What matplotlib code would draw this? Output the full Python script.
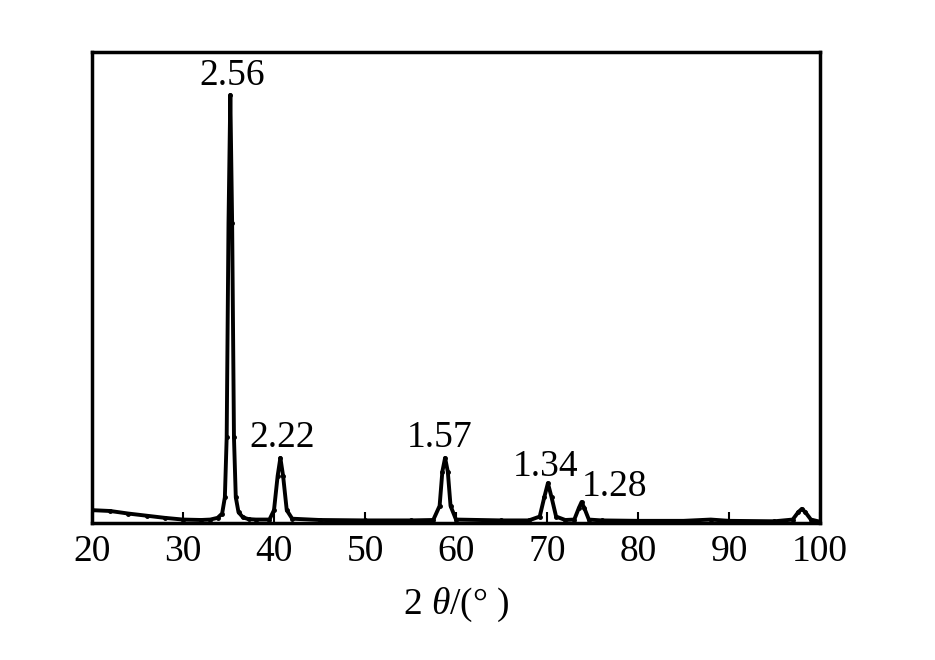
import matplotlib.pyplot as plt
import numpy as np

plt.rcParams['font.family'] = 'Liberation Serif'
plt.rcParams['mathtext.fontset'] = 'custom'
plt.rcParams['mathtext.rm'] = 'Liberation Serif'
plt.rcParams['mathtext.it'] = 'Liberation Serif:italic'

# XRD pattern, points
two_theta = [20, 22, 24, 26, 28, 30, 32, 33, 33.8, 34.3, 34.6, 34.8, 35.0, 35.2, 35.4, 35.6, 35.8, 36.1, 36.6, 37.2, 38,
             39.5, 40.0, 40.4, 40.7, 41.0, 41.4, 42, 45, 50, 55, 57.5, 58.2, 58.5, 58.8, 59.1, 59.4, 60,
             65, 68, 69.2, 69.7, 70.1, 70.5, 71, 72, 73.0, 73.5, 73.8, 74.1, 74.6, 76, 80, 85, 88, 90,
             95, 97, 97.6, 98.0, 98.4, 99, 100]
intensity = [30, 28, 22, 17, 12, 8, 7, 8, 12, 22, 60, 200, 700, 1000, 700, 200, 60, 25, 13, 9, 8,
             8, 30, 110, 152, 110, 30, 10, 7, 6, 6, 7, 40, 120, 152, 120, 40, 8,
             6, 6, 15, 60, 93, 60, 15, 7, 8, 35, 49, 35, 8, 6, 5, 5, 8, 5,
             4, 8, 25, 33, 25, 8, 3]

peak_labels = ['2.56', '2.22', '1.57', '1.34', '1.28']
label_x = [35.4, 40.9, 58.2, 69.8, 77.4]
label_y = [1046, 200, 200, 131, 84]

fig = plt.figure(figsize=(9.35, 6.6), dpi=100)
ax = fig.add_axes([0.0984, 0.2076, 0.7786, 0.7134])

ax.plot(two_theta, intensity, color='black', lw=2.8, marker='o', ms=2.5)

for t, x, y in zip(peak_labels, label_x, label_y):
    ax.text(x, y, t, fontsize=27, ha='center', va='center')

ax.set_xlim(20, 100)
ax.set_ylim(0, 1100)
ax.set_xticks(np.arange(20, 101, 10))
ax.set_yticks([])
ax.tick_params(axis='x', direction='in', length=8, width=1.5, labelsize=27, pad=8)
for s in ax.spines.values():
    s.set_linewidth(2.5)
ax.set_xlabel(r'2 $\theta$/(° )', fontsize=27, labelpad=12)

fig.savefig('out.png', dpi=100)
